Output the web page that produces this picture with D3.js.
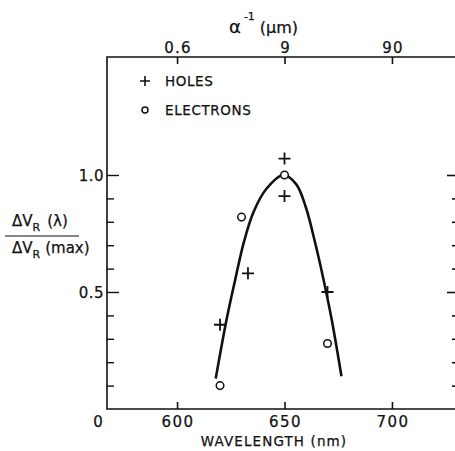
<!DOCTYPE html>
<html>
<head>
<meta charset="utf-8">
<script src="https://cdn.jsdelivr.net/npm/d3@7"></script>
<style>
  html, body { margin: 0; padding: 0; background: #fff; }
  svg { display: block; }
  text { font-family: "DejaVu Sans", "Liberation Sans", sans-serif; fill: #111; stroke: #111; stroke-width: 0.25; }
</style>
</head>
<body>
<script>
// Photo-response spectrum: normalized ΔV_R versus wavelength
const holesWavelength = [620, 633, 650, 650, 670];
const holesValue      = [0.36, 0.58, 1.07, 0.91, 0.50];
const electronsWavelength = [620, 630, 650, 670];
const electronsValue      = [0.10, 0.82, 1.00, 0.28];

// Fitted response curve
const curveWavelength = [618, 623, 627, 631, 635.5, 641.5, 649.5, 655.5, 660, 664, 668, 672, 676.5];
const curveValue      = [0.13, 0.38, 0.55, 0.71, 0.84, 0.94, 1.00, 0.96, 0.86, 0.72, 0.56, 0.38, 0.14];

// Axis ticks
const xTicks = [600, 650, 700];
const xTickLabels = ["600", "650", "700"];
const topTickLabels = ["0.6", "9", "90"];   // absorption length α⁻¹ (μm)
const yMajorTicks = [0.5, 1.0];
const yMajorLabels = ["0.5", "1.0"];
const yMinorTicks = [0.1, 0.2, 0.3, 0.4, 0.6, 0.7, 0.8, 0.9];

const W = 455, H = 451;
const plotLeft = 107, plotRight = 459, plotTop = 57, plotBottom = 409;

const svg = d3.select("body").append("svg").attr("width", W).attr("height", H);

const x = d3.scaleLinear().domain([567.4, 731.2]).range([plotLeft, plotRight]);
const y = d3.scaleLinear().domain([0, 1.5]).range([plotBottom, plotBottom - 234 * 1.5]);

const ink = "#111";

// Frame lines (left, bottom, top)
svg.append("path")
  .attr("d", `M${plotRight},${plotTop} H${plotLeft} V${plotBottom} H${plotRight}`)
  .attr("fill", "none").attr("stroke", ink).attr("stroke-width", 1.6);

// Bottom axis: ticks pointing inward
const bottomAxis = svg.append("g").attr("transform", `translate(0,${plotBottom})`)
  .call(d3.axisBottom(x).tickValues(xTicks).tickSize(-7).tickFormat(""));
bottomAxis.select(".domain").remove();
bottomAxis.selectAll("line").attr("stroke", ink).attr("stroke-width", 1.6);

svg.append("g").selectAll("text").data(xTicks).join("text")
  .attr("x", d => x(d) + 1).attr("y", 427)
  .attr("text-anchor", "middle").attr("font-size", 15).attr("letter-spacing", 1.5)
  .text((d, i) => xTickLabels[i]);
svg.append("text").attr("x", plotLeft - 9).attr("y", 427)
  .attr("text-anchor", "middle").attr("font-size", 15).text("0");

svg.append("text").attr("x", 274).attr("y", 446)
  .attr("text-anchor", "middle").attr("font-size", 13.5).attr("letter-spacing", 1.1)
  .text("WAVELENGTH  (nm)");

// Top axis: absorption length
const topAxis = svg.append("g").attr("transform", `translate(0,${plotTop})`)
  .call(d3.axisTop(x).tickValues(xTicks).tickSize(-7).tickFormat(""));
topAxis.select(".domain").remove();
topAxis.selectAll("line").attr("stroke", ink).attr("stroke-width", 1.6);

svg.append("g").selectAll("text").data(xTicks).join("text")
  .attr("x", d => x(d) + 1).attr("y", 53)
  .attr("text-anchor", "middle").attr("font-size", 15).attr("letter-spacing", 1.2)
  .text((d, i) => topTickLabels[i]);

const topTitle = svg.append("text").attr("x", 229).attr("y", 33).attr("font-size", 18);
topTitle.append("tspan").text("α");
topTitle.append("tspan").attr("font-size", 11).attr("dy", -13).attr("dx", 3).text("-1");
topTitle.append("tspan").attr("dy", 13).attr("dx", 5).attr("font-size", 16).text("(μm)");

// Left axis ticks (inward)
const leftMajor = svg.append("g").attr("transform", `translate(${plotLeft},0)`)
  .call(d3.axisLeft(y).tickValues(yMajorTicks).tickSize(-12).tickFormat(""));
leftMajor.select(".domain").remove();
leftMajor.selectAll("line").attr("stroke", ink).attr("stroke-width", 1.4);
const leftMinor = svg.append("g").attr("transform", `translate(${plotLeft},0)`)
  .call(d3.axisLeft(y).tickValues(yMinorTicks).tickSize(-7).tickFormat(""));
leftMinor.select(".domain").remove();
leftMinor.selectAll("line").attr("stroke", ink).attr("stroke-width", 1.4);

// Right axis ticks (inward); its spine sits just past the page edge
const rightMajor = svg.append("g").attr("transform", `translate(${plotRight},0)`)
  .call(d3.axisRight(y).tickValues(yMajorTicks).tickSize(-12).tickFormat(""));
rightMajor.select(".domain").remove();
rightMajor.selectAll("line").attr("stroke", ink).attr("stroke-width", 1.6);
const rightMinor = svg.append("g").attr("transform", `translate(${plotRight},0)`)
  .call(d3.axisRight(y).tickValues(yMinorTicks).tickSize(-7).tickFormat(""));
rightMinor.select(".domain").remove();
rightMinor.selectAll("line").attr("stroke", ink).attr("stroke-width", 1.6);

svg.append("g").selectAll("text").data(yMajorTicks).join("text")
  .attr("x", 104).attr("y", d => y(d) + 5.5)
  .attr("text-anchor", "end").attr("font-size", 15).attr("letter-spacing", 0.5)
  .text((d, i) => yMajorLabels[i]);

// Left axis title as a fraction
const num = svg.append("text").attr("x", 12).attr("y", 226).attr("font-size", 15);
num.append("tspan").text("ΔV");
num.append("tspan").attr("font-size", 11).attr("dy", 5).text("R");
num.append("tspan").attr("dy", -5).attr("dx", 7).text("(λ)");
svg.append("line").attr("x1", 5).attr("x2", 79).attr("y1", 236).attr("y2", 236)
  .attr("stroke", ink).attr("stroke-width", 1.2);
const den = svg.append("text").attr("x", 12).attr("y", 253).attr("font-size", 15);
den.append("tspan").text("ΔV");
den.append("tspan").attr("font-size", 11).attr("dy", 5).text("R");
den.append("tspan").attr("dy", -5).attr("dx", 5).text("(max)");

// Fitted curve
const line = d3.line().x(d => x(d[0])).y(d => y(d[1])).curve(d3.curveCatmullRom.alpha(0.5));
svg.append("path")
  .datum(curveWavelength.map((w, i) => [w, curveValue[i]]))
  .attr("d", line)
  .attr("fill", "none").attr("stroke", ink).attr("stroke-width", 2.6);

// Hole data (+)
svg.append("g").selectAll("path").data(holesWavelength.map((w, i) => [w, holesValue[i]])).join("path")
  .attr("transform", d => `translate(${x(d[0])},${y(d[1])})`)
  .attr("d", "M-6,0H6M0,-6V6")
  .attr("stroke", ink).attr("stroke-width", 1.8).attr("fill", "none");

// Electron data (o)
svg.append("g").selectAll("circle").data(electronsWavelength.map((w, i) => [w, electronsValue[i]])).join("circle")
  .attr("cx", d => x(d[0])).attr("cy", d => y(d[1])).attr("r", 3.8)
  .attr("fill", "#fff").attr("stroke", ink).attr("stroke-width", 1.5);

// Legend
const legend = svg.append("g");
legend.append("path").attr("d", "M140,81H150M145,76V86").attr("stroke", ink).attr("stroke-width", 1.6);
legend.append("text").attr("x", 165).attr("y", 86).attr("font-size", 13.5).attr("letter-spacing", 0.6).text("HOLES");
legend.append("circle").attr("cx", 145).attr("cy", 110).attr("r", 3).attr("fill", "none")
  .attr("stroke", ink).attr("stroke-width", 1.5);
legend.append("text").attr("x", 165).attr("y", 115).attr("font-size", 13.5).attr("letter-spacing", 0.6).text("ELECTRONS");
</script>
</body>
</html>
